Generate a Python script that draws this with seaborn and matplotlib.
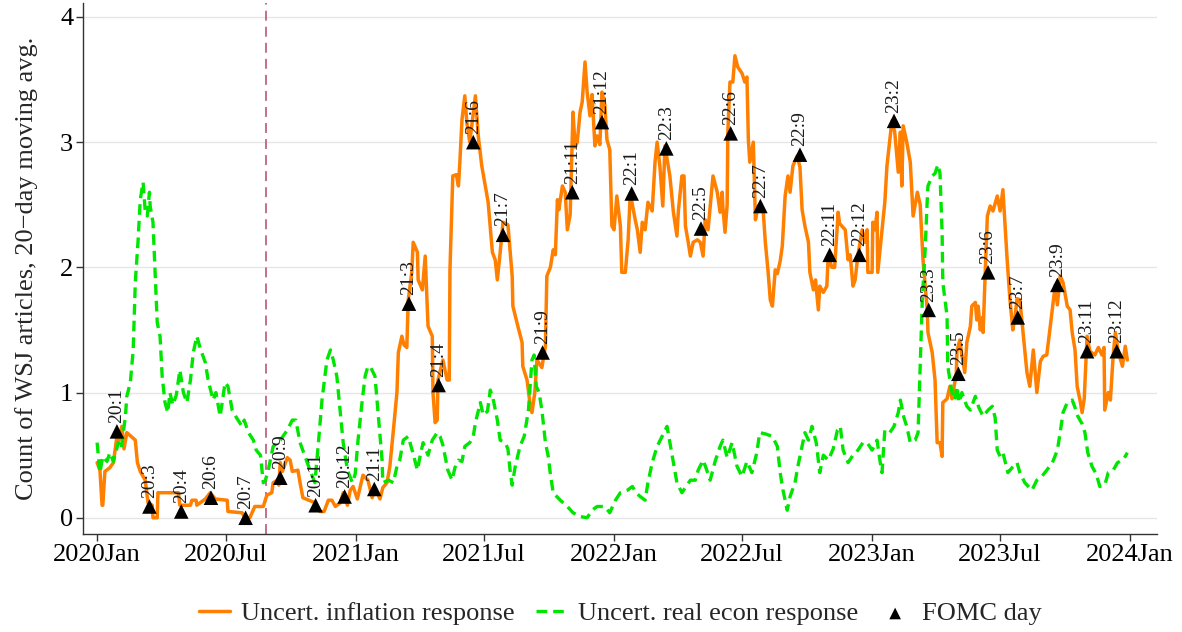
import pandas as pd
import matplotlib
matplotlib.use("Agg")
import matplotlib.pyplot as plt
import matplotlib.dates as mdates
import seaborn as sns

# days counted from 2020-01-01
start = pd.Timestamp("2020-01-01")

inf_day = [0, 4, 7, 8, 11, 18, 23, 28, 31, 35,
           38, 42, 54, 57, 61, 68, 72, 78, 79, 85,
           86, 115, 117, 132, 134, 140, 141, 153, 160, 167,
           184, 185, 205, 209, 216, 223, 235, 240, 247, 249,
           255, 257, 259, 262, 269, 273, 276, 284, 287, 291,
           308, 315, 321, 327, 332, 337, 344, 348, 354, 358,
           362, 368, 376, 383, 389, 393, 400, 404, 410, 414,
           419, 424, 426, 431, 434, 438, 440, 445, 447, 453,
           454, 460, 464, 468, 474, 475, 478, 481, 482, 489,
           495, 498, 499, 503, 508, 511, 513, 516, 520, 523,
           527, 535, 539, 544, 549, 553, 559, 563, 566, 570,
           574, 581, 587, 588, 595, 601, 602, 608, 612, 615,
           619, 622, 629, 634, 636, 641, 645, 648, 651, 653,
           658, 662, 665, 669, 673, 676, 679, 683, 686, 690,
           693, 697, 700, 704, 707, 711, 714, 718, 721, 725,
           728, 731, 735, 740, 742, 747, 751, 754, 757, 761,
           764, 768, 771, 775, 779, 785, 789, 792, 796, 800,
           803, 810, 815, 820, 822, 827, 830, 832, 836, 839,
           843, 849, 853, 857, 860, 864, 871, 877, 881, 884,
           885, 888, 891, 892, 895, 899, 902, 906, 912, 916,
           919, 921, 923, 928, 931, 935, 942, 945, 949, 952,
           955, 959, 962, 966, 969, 973, 977, 980, 984, 990,
           994, 997, 1001, 1006, 1008, 1013, 1016, 1020, 1022, 1027,
           1032, 1034, 1039, 1043, 1048, 1050, 1058, 1062, 1065, 1069,
           1072, 1076, 1082, 1086, 1089, 1090, 1096, 1097, 1100, 1103,
           1104, 1110, 1114, 1117, 1121, 1124, 1128, 1133, 1136, 1138,
           1140, 1145, 1150, 1154, 1160, 1164, 1168, 1174, 1175, 1181,
           1185, 1188, 1192, 1195, 1196, 1202, 1206, 1209, 1215, 1216,
           1220, 1223, 1227, 1230, 1235, 1237, 1242, 1244, 1246, 1249,
           1252, 1253, 1256, 1259, 1263, 1267, 1273, 1277, 1281, 1287,
           1291, 1295, 1298, 1301, 1305, 1310, 1315, 1319, 1324, 1329,
           1334, 1338, 1343, 1348, 1355, 1358, 1362, 1366, 1372, 1376,
           1379, 1383, 1386, 1390, 1393, 1396, 1400, 1404, 1411, 1416,
           1421, 1424, 1425, 1430, 1433, 1437, 1440, 1444, 1450, 1454,
           1457]
inf_val = [0.44, 0.38, 0.10, 0.10, 0.37, 0.40, 0.44, 0.65, 0.62, 0.73,
           0.55, 0.68, 0.62, 0.44, 0.37, 0.30, 0.12, 0.10, 0.00, 0.00,
           0.20, 0.20, 0.10, 0.10, 0.14, 0.14, 0.10, 0.15, 0.20, 0.15,
           0.14, 0.05, 0.04, 0.00, 0.00, 0.09, 0.09, 0.18, 0.20, 0.28,
           0.30, 0.26, 0.44, 0.37, 0.48, 0.46, 0.37, 0.38, 0.28, 0.16,
           0.12, 0.05, 0.05, 0.14, 0.14, 0.09, 0.12, 0.20, 0.10, 0.22,
           0.25, 0.15, 0.34, 0.30, 0.16, 0.24, 0.15, 0.24, 0.28, 0.41,
           0.70, 1.00, 1.32, 1.45, 1.38, 1.36, 1.74, 1.96, 2.20, 2.12,
           1.90, 1.82, 2.09, 1.53, 1.45, 1.00, 0.76, 0.78, 1.10, 1.26,
           1.10, 1.10, 1.98, 2.73, 2.74, 2.65, 2.84, 3.18, 3.37, 3.15,
           3.00, 3.37, 3.05, 2.81, 2.65, 2.52, 2.12, 2.06, 1.90, 2.12,
           2.36, 2.34, 1.93, 1.69, 1.53, 1.40, 1.21, 1.10, 0.92, 0.84,
           1.00, 1.26, 1.20, 1.37, 1.93, 2.00, 2.14, 2.10, 2.54, 2.46,
           2.65, 2.60, 2.30, 2.42, 3.24, 2.96, 3.00, 3.24, 3.32, 3.64,
           3.40, 3.21, 3.38, 2.97, 3.05, 2.98, 3.40, 3.30, 3.02, 2.94,
           2.33, 2.30, 2.57, 2.33, 1.96, 1.96, 2.22, 2.59, 2.50, 2.38,
           2.30, 2.12, 2.36, 2.30, 2.52, 2.45, 2.84, 3.00, 2.80, 2.49,
           2.97, 2.73, 2.44, 2.25, 2.45, 2.73, 2.73, 2.33, 2.20, 2.09,
           2.20, 2.22, 2.20, 2.09, 2.38, 2.30, 2.73, 2.60, 2.44, 2.60,
           2.48, 2.28, 2.50, 3.08, 3.48, 3.48, 3.69, 3.60, 3.55, 3.48,
           3.52, 3.02, 2.84, 3.00, 2.38, 2.49, 2.45, 2.20, 1.96, 1.74,
           1.69, 1.98, 1.95, 2.05, 2.17, 2.57, 2.73, 2.60, 2.81, 2.89,
           2.80, 2.46, 2.33, 2.20, 1.96, 1.82, 1.90, 1.66, 1.85, 1.80,
           1.85, 2.10, 2.00, 2.00, 2.44, 2.35, 2.30, 2.06, 2.10, 1.85,
           1.90, 2.10, 2.30, 2.20, 2.30, 1.96, 1.96, 2.36, 2.30, 2.44,
           1.96, 2.30, 2.52, 2.81, 3.02, 3.17, 3.08, 2.76, 3.08, 2.65,
           3.13, 3.00, 2.84, 2.41, 2.60, 2.50, 2.06, 1.66, 1.48, 1.32,
           1.10, 0.60, 0.60, 0.49, 0.92, 0.95, 1.05, 0.95, 1.15, 1.33,
           1.42, 1.30, 1.16, 1.40, 1.53, 1.69, 1.72, 1.58, 1.69, 1.50,
           1.60, 1.48, 1.96, 2.41, 2.49, 2.45, 2.57, 2.45, 2.62, 2.06,
           1.74, 1.50, 1.60, 1.75, 1.74, 1.45, 1.16, 1.05, 1.34, 1.00,
           1.25, 1.29, 1.30, 1.53, 1.86, 1.70, 1.93, 1.88, 1.69, 1.66,
           1.48, 1.34, 1.05, 0.94, 0.84, 0.95, 1.45, 1.33, 1.30, 1.36,
           1.30, 1.36, 0.86, 1.00, 0.94, 1.30, 1.48, 1.33, 1.21, 1.37,
           1.26]

real_day = [0, 4, 8, 14, 18, 23, 30, 34, 40, 42,
            47, 51, 54, 58, 61, 65, 68, 71, 74, 75,
            79, 82, 85, 89, 92, 96, 100, 103, 107, 112,
            117, 122, 127, 132, 136, 141, 146, 153, 157, 164,
            168, 174, 181, 185, 191, 197, 205, 208, 214, 221,
            225, 231, 235, 238, 242, 249, 259, 269, 276, 281,
            287, 294, 301, 308, 313, 318, 325, 330, 334, 339,
            344, 348, 354, 361, 365, 369, 375, 379, 383, 387,
            393, 397, 403, 404, 412, 419, 424, 428, 433, 440,
            445, 453, 457, 461, 468, 474, 481, 485, 489, 496,
            502, 506, 511, 516, 520, 527, 532, 535, 542, 546,
            552, 556, 560, 566, 570, 577, 581, 584, 587, 591,
            598, 604, 610, 615, 618, 621, 625, 629, 634, 638,
            641, 645, 655, 665, 673, 683, 693, 700, 707, 718,
            725, 733, 740, 750, 757, 762, 768, 775, 779, 785,
            792, 799, 806, 810, 815, 820, 827, 833, 839, 846,
            850, 857, 861, 867, 874, 881, 885, 891, 898, 905,
            912, 919, 926, 933, 937, 945, 955, 962, 966, 970,
            976, 980, 987, 991, 997, 1001, 1006, 1011, 1017, 1022,
            1027, 1034, 1041, 1047, 1051, 1055, 1062, 1069, 1076, 1083,
            1089, 1096, 1103, 1107, 1110, 1114, 1121, 1127, 1133, 1136,
            1141, 1145, 1150, 1157, 1161, 1164, 1167, 1171, 1174, 1175,
            1181, 1185, 1189, 1192, 1195, 1196, 1202, 1203, 1209, 1213,
            1216, 1219, 1223, 1230, 1235, 1242, 1247, 1253, 1260, 1266,
            1270, 1273, 1277, 1281, 1288, 1294, 1301, 1305, 1312, 1322,
            1329, 1336, 1343, 1351, 1358, 1362, 1366, 1372, 1379, 1383,
            1387, 1393, 1397, 1401, 1407, 1413, 1418, 1425, 1430, 1437,
            1443, 1450, 1454, 1457]
real_val = [0.60, 0.36, 0.49, 0.45, 0.52, 0.45, 0.60, 0.55, 0.81, 0.97,
            1.08, 1.34, 1.88, 2.22, 2.54, 2.68, 2.45, 2.41, 2.60, 2.49,
            2.36, 1.96, 1.56, 1.45, 1.13, 0.92, 0.84, 1.00, 0.90, 0.98,
            1.18, 1.00, 0.92, 1.10, 1.32, 1.45, 1.35, 1.24, 1.10, 0.94,
            1.00, 0.81, 1.08, 1.05, 0.86, 0.80, 0.73, 0.78, 0.68, 0.62,
            0.54, 0.50, 0.28, 0.30, 0.38, 0.57, 0.62, 0.70, 0.78, 0.78,
            0.60, 0.49, 0.38, 0.28, 0.60, 0.94, 1.26, 1.34, 1.26, 1.13,
            0.84, 0.60, 0.38, 0.28, 0.35, 0.62, 0.94, 1.13, 1.21, 1.20,
            1.13, 0.86, 0.46, 0.28, 0.30, 0.28, 0.41, 0.46, 0.62, 0.65,
            0.55, 0.38, 0.50, 0.60, 0.50, 0.62, 0.68, 0.65, 0.58, 0.38,
            0.30, 0.40, 0.46, 0.45, 0.57, 0.60, 0.65, 0.76, 0.92, 0.82,
            0.85, 1.02, 0.95, 0.78, 0.62, 0.60, 0.55, 0.38, 0.26, 0.40,
            0.57, 0.65, 0.86, 1.26, 1.30, 1.05, 1.00, 0.86, 0.60, 0.49,
            0.35, 0.20, 0.14, 0.09, 0.04, 0.01, 0.00, 0.06, 0.09, 0.09,
            0.04, 0.14, 0.20, 0.22, 0.25, 0.20, 0.17, 0.14, 0.28, 0.44,
            0.57, 0.65, 0.73, 0.60, 0.44, 0.28, 0.20, 0.25, 0.30, 0.30,
            0.38, 0.46, 0.40, 0.30, 0.45, 0.57, 0.62, 0.48, 0.60, 0.41,
            0.33, 0.45, 0.36, 0.52, 0.68, 0.67, 0.65, 0.57, 0.36, 0.22,
            0.06, 0.17, 0.28, 0.41, 0.57, 0.68, 0.62, 0.73, 0.60, 0.36,
            0.50, 0.46, 0.55, 0.70, 0.73, 0.54, 0.44, 0.50, 0.54, 0.60,
            0.60, 0.54, 0.62, 0.46, 0.36, 0.70, 0.68, 0.73, 0.84, 0.94,
            0.80, 0.73, 0.60, 0.62, 0.68, 1.21, 1.74, 2.14, 2.54, 2.65,
            2.73, 2.75, 2.82, 2.75, 2.28, 1.88, 1.61, 1.21, 1.00, 0.94,
            1.05, 0.92, 1.00, 0.89, 0.86, 0.97, 0.88, 0.81, 0.86, 0.89,
            0.80, 0.54, 0.49, 0.52, 0.36, 0.40, 0.44, 0.36, 0.28, 0.22,
            0.30, 0.33, 0.38, 0.44, 0.54, 0.68, 0.84, 0.92, 0.94, 0.88,
            0.81, 0.75, 0.68, 0.52, 0.41, 0.35, 0.25, 0.26, 0.36, 0.38,
            0.44, 0.46, 0.49, 0.52]

fomc_dates = ["2020-01-29", "2020-03-15", "2020-04-29", "2020-06-10", "2020-07-29",
              "2020-09-16", "2020-11-05", "2020-12-16", "2021-01-27", "2021-03-17",
              "2021-04-28", "2021-06-16", "2021-07-28", "2021-09-22", "2021-11-03",
              "2021-12-15", "2022-01-26", "2022-03-16", "2022-05-04", "2022-06-15",
              "2022-07-27", "2022-09-21", "2022-11-02", "2022-12-14", "2023-02-01",
              "2023-03-22", "2023-05-03", "2023-06-14", "2023-07-26", "2023-09-20",
              "2023-11-01", "2023-12-13"]
fomc_labels = ["20:1", "20:3", "20:4", "20:6", "20:7", "20:9", "20:11", "20:12",
               "21:1", "21:3", "21:4", "21:6", "21:7", "21:9", "21:11", "21:12",
               "22:1", "22:3", "22:5", "22:6", "22:7", "22:9", "22:11", "22:12",
               "23:2", "23:3", "23:5", "23:6", "23:7", "23:9", "23:11", "23:12"]
fomc_val = [0.69, 0.09, 0.05, 0.16, 0.00, 0.32, 0.10, 0.17,
            0.23, 1.71, 1.06, 3.00, 2.26, 1.32, 2.60, 3.16,
            2.59, 2.95, 2.31, 3.07, 2.49, 2.90, 2.10, 2.10,
            3.17, 1.66, 1.15, 1.96, 1.60, 1.86, 1.33, 1.33]

framework_day = "2020-08-27"

inf = pd.DataFrame({"date": start + pd.to_timedelta(inf_day, unit="D"), "value": inf_val})
real = pd.DataFrame({"date": start + pd.to_timedelta(real_day, unit="D"), "value": real_val})
fomc = pd.DataFrame({"date": pd.to_datetime(fomc_dates), "value": fomc_val, "label": fomc_labels})

sns.set_theme(style="white")
plt.rcParams["font.family"] = ["Liberation Serif", "DejaVu Serif"]

fig = plt.figure(figsize=(11.82, 6.32), dpi=100)
ax = fig.add_axes([0.0702, 0.155, 0.9087, 0.840])

ax.axvline(pd.Timestamp(framework_day), color="#b04a6a", lw=1.1,
           linestyle=(0, (6.5, 4)), zorder=1)

sns.lineplot(data=inf, x="date", y="value", ax=ax, color="#ff7f00", lw=2.5,
             estimator=None, label="Uncert. inflation response", zorder=3)
sns.lineplot(data=real, x="date", y="value", ax=ax, color="#00e600", lw=2.4,
             linestyle=(0, (3.2, 1.8)), estimator=None,
             label="Uncert. real econ response", zorder=3)
sns.scatterplot(data=fomc, x="date", y="value", ax=ax, marker="^", s=110,
                color="black", edgecolor="none", label="FOMC day", zorder=5)

for d, v, lab in zip(fomc["date"], fomc["value"], fomc["label"]):
    ax.annotate(lab, (d, v), xytext=(0, 6), textcoords="offset points",
                rotation=90, ha="center", va="bottom", fontsize=14, color="#1a1a1a")

ax.set_xlim(pd.Timestamp("2019-12-12"), pd.Timestamp("2024-02-08"))
ax.set_ylim(-0.13, 4.11)
ax.set_yticks([0, 1, 2, 3, 4])
ax.xaxis.set_major_locator(mdates.MonthLocator(bymonth=[1, 7]))
ax.xaxis.set_major_formatter(mdates.DateFormatter("%Y%b"))

ax.yaxis.grid(True, color="#e6e6e6", lw=1)
ax.set_axisbelow(True)
for s in ["top", "right"]:
    ax.spines[s].set_visible(False)
for s in ["left", "bottom"]:
    ax.spines[s].set_color("#333333")
    ax.spines[s].set_linewidth(1)

ax.tick_params(axis="both", bottom=True, left=True, length=5, width=1,
               color="#333333", labelsize=19, labelcolor="black", pad=2)
ax.set_xlabel("")
ax.set_ylabel("Count of WSJ articles, 20\u2212day moving avg.", fontsize=19, labelpad=16)

handles, labels = ax.get_legend_handles_labels()
ax.legend(handles, labels, loc="center", bbox_to_anchor=(0.5, -0.15), ncol=3,
          frameon=False, fontsize=19, handlelength=1.2, handletextpad=0.4,
          columnspacing=0.8, markerscale=0.8)

fig.savefig("out.png", dpi=100)
